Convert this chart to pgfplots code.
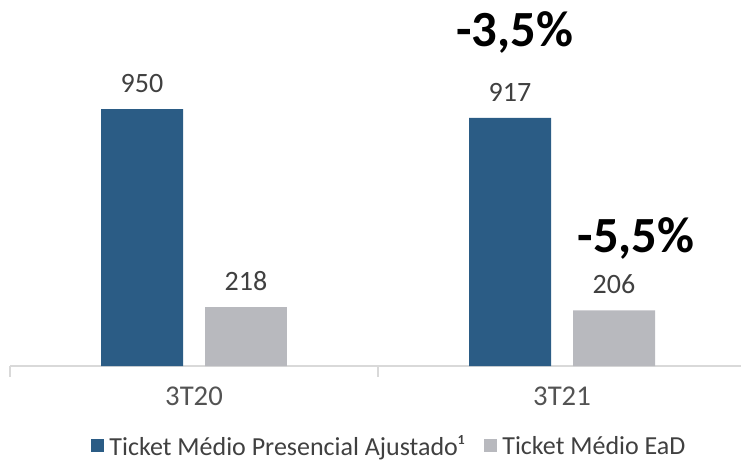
\documentclass[border=0pt]{standalone}
\usepackage{pgfplots}
\pgfplotsset{compat=1.18}
\usepackage{fontspec}
\setmainfont{Carlito}
\definecolor{barblue}{HTML}{2B5C85}
\definecolor{bargray}{HTML}{B8B9BE}
\definecolor{axgray}{HTML}{D9D9D9}
\definecolor{txt}{HTML}{404040}
\begin{document}
\begin{tikzpicture}
\path[use as bounding box] (0,0) rectangle (555.75pt,345pt);
\begin{axis}[
  at={(7.5pt,70.5pt)}, anchor=south west,
  scale only axis, width=552pt, height=274.5pt,
  xmin=-0.5, xmax=1.5, ymin=0, ymax=1353,
  axis x line*=bottom, axis y line=none,
  x axis line style={axgray, line width=1.2pt, -},
  xtick={-0.5,0.5,1.5}, xticklabels={},
  tick align=outside, major tick length=8pt,
  xtick style={axgray, line width=1.2pt},
  extra x ticks={0,1}, extra x tick labels={3T20,3T21},
  extra x tick style={major tick length=0pt, tick style={draw=none}},
  xticklabel style={font=\fontsize{21.5}{23}\selectfont, text=txt!90, yshift=-12pt},
  ytick=\empty,
  /pgf/number format/assume math mode=true,
  nodes near coords,
  every node near coord/.append style={font=\fontsize{21}{23}\selectfont, text=txt, anchor=south, inner sep=0pt, yshift=12pt},
  legend style={at={(0.516,-0.219)}, anchor=center, draw=none, fill=none,
    font=\fontsize{19.5}{21}\selectfont, text=txt, legend columns=2,
    /tikz/every even column/.append style={column sep=13pt},
    /tikz/every odd column/.append style={column sep=2pt}},
  legend image code/.code={\fill[#1] (0pt,-4.5pt) rectangle (9.5pt,5pt);},
  clip=false,
]
\addplot[ybar, bar width=0.2228, bar shift=0pt, fill=barblue, draw=none] coordinates {(-0.1413,950) (0.8587,917)};
\addlegendentry{Ticket Médio Presencial Ajustado¹}
\addplot[ybar, bar width=0.2228, bar shift=0pt, fill=bargray, draw=none] coordinates {(0.1413,218) (1.1413,206)};
\addlegendentry{Ticket Médio EaD}
\node[font=\bfseries\fontsize{38}{40}\selectfont, text=black, anchor=center] at (axis cs:0.872,1232) {-3,5\%};
\node[font=\bfseries\fontsize{38}{40}\selectfont, text=black, anchor=center] at (axis cs:1.201,470) {-5,5\%};
\end{axis}
\end{tikzpicture}
\end{document}
